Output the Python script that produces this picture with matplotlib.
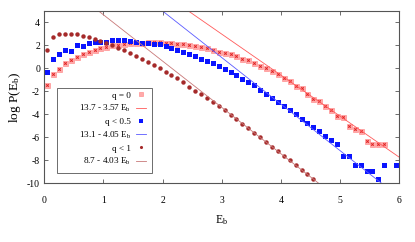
import numpy as np
import matplotlib
matplotlib.use("Agg")
import matplotlib.pyplot as plt
from matplotlib.patches import Rectangle

plt.rcParams['font.family'] = ['Liberation Serif', 'DejaVu Serif']
plt.rcParams['mathtext.fontset'] = 'custom'
plt.rcParams['mathtext.rm'] = 'Liberation Serif'
plt.rcParams['mathtext.it'] = 'Liberation Serif:italic'
plt.rcParams['axes.unicode_minus'] = False

# centres des bins en E_b
eb = [0.05, 0.15, 0.25, 0.35, 0.45, 0.55, 0.65, 0.75, 0.85, 0.95,
      1.05, 1.15, 1.25, 1.35, 1.45, 1.55, 1.65, 1.75, 1.85, 1.95,
      2.05, 2.15, 2.25, 2.35, 2.45, 2.55, 2.65, 2.75, 2.85, 2.95,
      3.05, 3.15, 3.25, 3.35, 3.45, 3.55, 3.65, 3.75, 3.85, 3.95,
      4.05, 4.15, 4.25, 4.35, 4.45, 4.55, 4.65, 4.75, 4.85, 4.95,
      5.05, 5.15, 5.25, 5.35, 5.45, 5.55, 5.65, 5.75, 5.85, 5.95]

# q = 0
logp_q0 = [-1.45, -0.47, -0.05, 0.45, 0.70, 1.00, 1.27, 1.47, 1.60, 1.76,
           1.88, 2.00, 2.04, 2.12, 2.18, 2.21, 2.24, 2.30, 2.27, 2.27,
           2.21, 2.21, 2.15, 2.10, 2.04, 1.98, 1.85, 1.75, 1.60, 1.45,
           1.37, 1.22, 1.05, 0.84, 0.70, 0.47, 0.23, 0.00, -0.23, -0.49,
           -0.84, -1.10, -1.57, -1.74, -2.21, -2.70, -2.82, -3.31, -3.63, -4.13,
           -4.21, -5.03, -5.29, -5.43, -6.33, -6.60, -6.60, -6.60]

# q < 0.5
logp_q05 = [-0.29, 0.79, 1.28, 1.57, 1.51, 2.00, 1.97, 2.18, 2.27, 2.33,
            2.27, 2.44, 2.44, 2.44, 2.38, 2.33, 2.24, 2.21, 2.13, 2.10,
            1.92, 1.75, 1.63, 1.46, 1.26, 1.05, 0.85, 0.64, 0.44, 0.18,
            -0.06, -0.32, -0.58, -0.93, -1.16, -1.48, -1.86, -2.26, -2.56, -2.90,
            -3.28, -3.63, -4.00, -4.39, -4.74, -5.09, -5.44, -5.84, -6.19, -6.60,
            -7.62, -7.62, -8.45, -8.45, -8.89, -8.89, -9.59, -8.45, np.nan, -8.45]

# q < 1
logp_q1 = [1.57, 2.72, 3.00, 3.03, 3.00, 2.98, 2.85, 2.72, 2.55, 2.40,
           2.22, 2.02, 1.82, 1.57, 1.31, 1.08, 0.82, 0.55, 0.32, 0.02,
           -0.29, -0.58, -0.87, -1.22, -1.60, -1.95, -2.24, -2.58, -2.94, -3.28,
           -3.66, -4.02, -4.40, -4.85, -5.23, -5.61, -5.99, -6.39, -6.80, -7.20,
           -7.62, -7.99, -8.40, -8.80, -9.21, -9.59]

# ajustements lineaires a - b*E_b
fit_a = [13.7, 13.1, 8.7]
fit_b = [3.57, 4.05, 4.03]

RED = "#ff5a5a"
BLUE = "#0a14ff"
BROWN = "#a52a2a"

fig = plt.figure(figsize=(4.15, 2.42), dpi=100)
ax = fig.add_axes([0.1067, 0.2426, 0.855, 0.712])

e_line = np.linspace(0.0, 6.0, 200)

h1, = ax.plot(eb[:len(logp_q0)], logp_q0, ls="none", marker="s", ms=3.6,
              mfc="#ffaaaa", mec="#ff8080", mew=0.4, label="q = 0")
ax.plot(eb[:len(logp_q0)], logp_q0, ls="none", marker="x", ms=1.8,
        mec="#e02020", mew=0.7)
l1, = ax.plot(e_line, fit_a[0] - fit_b[0]*e_line, color=RED, lw=0.6,
              label=r"13.7 - 3.57 E$_\mathrm{b}$")

h2, = ax.plot(eb[:len(logp_q05)], logp_q05, ls="none", marker="s", ms=3.6,
              color=BLUE, mew=0, label="q < 0.5")
l2, = ax.plot(e_line, fit_a[1] - fit_b[1]*e_line, color="#5a5aff", lw=0.6,
              label=r"13.1 - 4.05 E$_\mathrm{b}$")

h3, = ax.plot(eb[:len(logp_q1)], logp_q1, ls="none", marker="o", ms=3.2,
              color=BROWN, mew=0, label="q < 1")
l3, = ax.plot(e_line, fit_a[2] - fit_b[2]*e_line, color="#c87878", lw=0.6,
              label=r"8.7 - 4.03 E$_\mathrm{b}$")

ax.set_xlim(0, 6)
ax.set_ylim(-10, 5)
ax.set_xticks(range(0, 7))
ax.set_yticks(range(-10, 5, 2))

for s in ax.spines.values():
    s.set_color("#555555")
    s.set_linewidth(0.8)
ax.tick_params(direction="in", top=True, right=True, length=3, width=0.6,
               color="#555555", labelsize=7)
ax.tick_params(axis="x", pad=9)
ax.tick_params(axis="y", pad=3)

ax.set_xlabel(r"E$_\mathrm{b}$", fontsize=8.5, labelpad=6)
ax.set_ylabel(r"log P(E$_\mathrm{b}$)", fontsize=9.5, labelpad=3)

# cadre de la legende, style gnuplot
ax.add_patch(Rectangle((0.0358, 0.0615), 0.2676, 0.4915, transform=ax.transAxes,
                       fill=True, facecolor="white", edgecolor="#555555",
                       lw=0.6, zorder=4))
leg = ax.legend(handles=[h1, l1, h2, l2, h3, l3], loc="upper right",
                bbox_to_anchor=(0.2865, 0.535), frameon=False, markerfirst=False,
                fontsize=6.6, handlelength=1.1, handletextpad=0.5,
                labelspacing=0.38, borderpad=0, borderaxespad=0, markerscale=0.7)
leg.set_zorder(5)

fig.savefig("out.png", dpi=100)
